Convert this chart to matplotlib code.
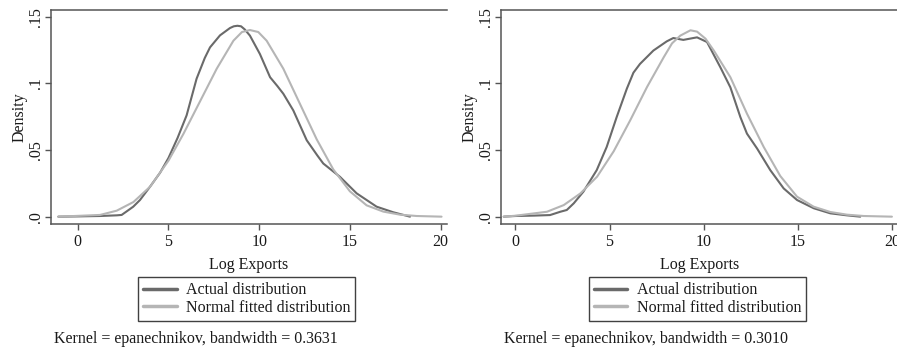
import matplotlib
matplotlib.use("Agg")
import matplotlib.pyplot as plt

plt.rcParams['font.family'] = ['Liberation Serif', 'DejaVu Serif']

# ---- data ----
left_actual_x = [-1.07, 0.0, 1.23, 2.15, 2.42, 2.7, 3.06, 3.43, 3.98, 4.54, 5.0, 5.5, 6.0, 6.55, 7.0,
                 7.29, 7.84, 8.39, 8.6, 8.8, 9.0, 9.2, 9.49, 10.04, 10.6, 11.0, 11.33, 11.88, 12.62,
                 13.2, 13.53, 14.45, 15.37, 16.47, 17.39, 18.31]
left_actual_y = [0.0, 0.0002, 0.0005, 0.0010, 0.0013, 0.004, 0.0075, 0.0125, 0.0224, 0.033, 0.044,
                 0.059, 0.076, 0.1035, 0.119, 0.127, 0.136, 0.1415, 0.1428, 0.1432, 0.1428, 0.1405,
                 0.1358, 0.122, 0.1046, 0.098, 0.0922, 0.0797, 0.0573, 0.046, 0.0399, 0.0299,
                 0.0175, 0.0075, 0.0033, 0.0]

left_normal_x = [-1.07, 0.0, 1.23, 2.15, 3.07, 3.99, 5.0, 5.82, 6.74, 7.66, 8.58, 9.05, 9.49, 9.95,
                 10.41, 11.33, 12.25, 13.17, 14.08, 15.0, 15.92, 16.84, 17.76, 18.68, 20.05]
left_normal_y = [0.0, 0.0006, 0.0013, 0.0045, 0.0110, 0.0225, 0.0420, 0.0620, 0.0865, 0.1110, 0.1320,
                 0.1385, 0.1400, 0.1385, 0.1320, 0.1110, 0.0845, 0.0580, 0.0355, 0.0190, 0.0085,
                 0.0038, 0.0015, 0.0005, 0.0]

right_actual_x = [-0.62, 0.0, 1.0, 1.84, 2.39, 2.73, 3.1, 3.61, 4.32, 4.85, 5.38, 5.92, 6.27, 6.62,
                  7.33, 8.04, 8.39, 8.92, 9.45, 9.65, 10.18, 10.89, 11.42, 11.95, 12.3, 12.84,
                  13.54, 14.25, 14.96, 15.85, 16.73, 17.61, 18.32]
right_actual_y = [0.0, 0.0005, 0.0008, 0.0012, 0.0037, 0.005, 0.01, 0.0187, 0.0349, 0.0523, 0.0747,
                  0.096, 0.108, 0.1146, 0.1246, 0.1315, 0.134, 0.1326, 0.134, 0.1345, 0.131,
                  0.112, 0.097, 0.0747, 0.0623, 0.0511, 0.0349, 0.0212, 0.0125, 0.0063, 0.0025,
                  0.0010, 0.0]

right_normal_x = [-0.62, 0.0, 1.68, 2.57, 3.45, 4.34, 5.22, 6.1, 6.99, 7.88, 8.32, 8.76, 9.3, 9.65,
                  10.1, 10.54, 11.42, 12.3, 13.19, 14.07, 14.96, 15.84, 16.73, 17.61, 18.5, 20.0]
right_normal_y = [0.0, 0.0007, 0.0037, 0.0087, 0.0174, 0.030, 0.0490, 0.0723, 0.0972, 0.1196, 0.1300,
                  0.1358, 0.1398, 0.1388, 0.1335, 0.1246, 0.1046, 0.0773, 0.0523, 0.0305, 0.0150,
                  0.0075, 0.0035, 0.0015, 0.0005, 0.0]

x_ticks = [0, 5, 10, 15, 20]
y_ticks = [0.0, 0.05, 0.10, 0.15]
y_ticklabels = ['.0', '.05', '.1', '.15']
series_labels = ['Actual distribution', 'Normal fitted distribution']
x_label = 'Log Exports'
y_label = 'Density'
notes = ['Kernel = epanechnikov, bandwidth = 0.3631', 'Kernel = epanechnikov, bandwidth = 0.3010']

W, H = 897, 353
fig = plt.figure(figsize=(W / 100, H / 100), dpi=100)
fig.patch.set_facecolor('white')

FS = 11.5
DARK = '#6a6a6a'
LIGHT = '#b5b5b5'
TXT = '#1a1a1a'

panels = [
    dict(left=50.7, right=447.0, xlim=(-1.49, 20.35),
         ax_=left_actual_x, ay=left_actual_y, nx=left_normal_x, ny=left_normal_y, note=notes[0]),
    dict(left=500.7, right=898.5, xlim=(-0.78, 20.35),
         ax_=right_actual_x, ay=right_actual_y, nx=right_normal_x, ny=right_normal_y, note=notes[1]),
]

top_px, bot_px = 9.5, 224.0
for p in panels:
    ax = fig.add_axes([p['left'] / W, 1 - bot_px / H, (p['right'] - p['left']) / W, (bot_px - top_px) / H])
    ax.plot(p['ax_'], p['ay'], color=DARK, lw=1.5, label=series_labels[0],
            solid_capstyle='round', solid_joinstyle='round')
    ax.plot(p['nx'], p['ny'], color=LIGHT, lw=1.5, label=series_labels[1],
            solid_capstyle='round', solid_joinstyle='round')
    ax.set_xlim(*p['xlim'])
    ax.set_ylim(-0.0055, 0.1554)
    ax.set_xticks(x_ticks)
    ax.set_yticks(y_ticks)
    ax.set_yticklabels(y_ticklabels, rotation=90, va='center')
    for s in ['left', 'top', 'bottom']:
        ax.spines[s].set_color('#555555')
        ax.spines[s].set_linewidth(1.1)
    ax.spines['right'].set_visible(False)
    ax.tick_params(axis='both', colors='#555555', labelcolor=TXT, labelsize=FS, length=4, width=1.0)
    ax.tick_params(axis='x', pad=3)
    ax.tick_params(axis='y', pad=1)
    ax.set_xlabel(x_label, fontsize=FS, color=TXT, labelpad=5)
    ax.set_ylabel(y_label, fontsize=FS, color=TXT, labelpad=0)
    leg = ax.legend(loc='upper center', bbox_to_anchor=(((p['left'] + p['right']) / 2 - 2) / W, 1 - 277.3 / H),
                    bbox_transform=fig.transFigure, frameon=True, fancybox=False, fontsize=FS,
                    handlelength=2.1, handletextpad=0.6, labelspacing=0.12, borderpad=0.3,
                    borderaxespad=0.0)
    leg.get_frame().set_edgecolor('#111111')
    leg.get_frame().set_linewidth(1.0)
    for line in leg.get_lines():
        line.set_linewidth(2.5)
    for t in leg.get_texts():
        t.set_color(TXT)
    fig.text((p['left'] + 3.5) / W, 1 - 339.3 / H, p['note'], fontsize=FS, color=TXT, ha='left', va='center')

fig.savefig('out.png', dpi=100, facecolor='white')
